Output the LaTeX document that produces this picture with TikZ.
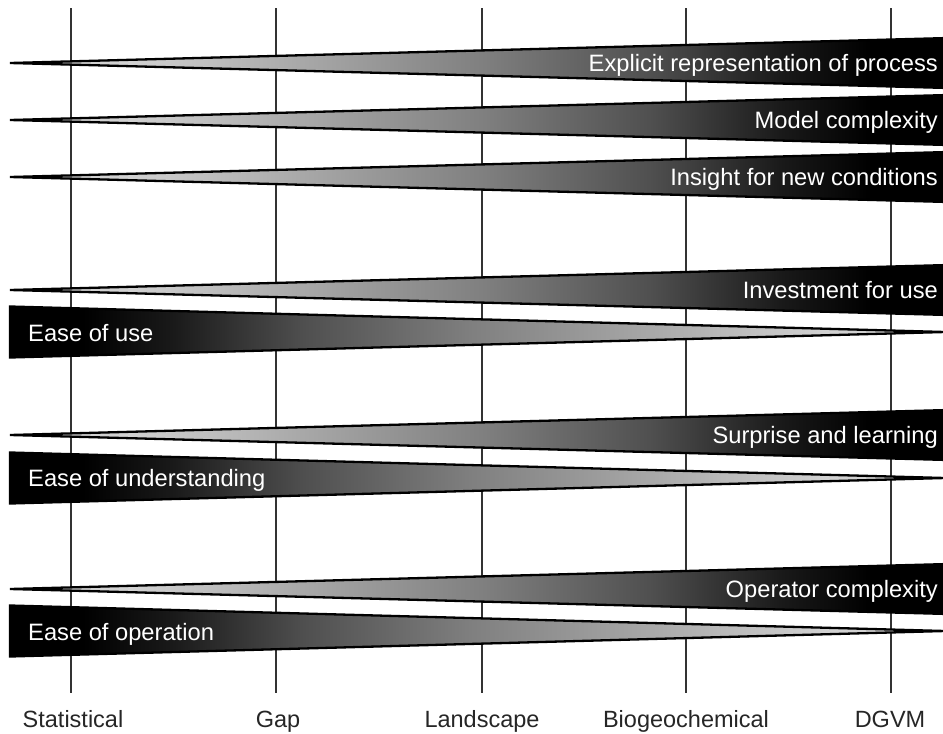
\documentclass[tikz,border=0pt]{standalone}
\usepackage{fontspec}
\setmainfont{Liberation Sans}
\pgfdeclarehorizontalshading{incr}{100bp}{color(0bp)=(black!18); color(31.4bp)=(black!18); color(40.5bp)=(black!34); color(50.2bp)=(black!50); color(59.2bp)=(black!69); color(66.1bp)=(black!90); color(70.9bp)=(black); color(100bp)=(black)}
\pgfdeclarehorizontalshading{decr}{100bp}{color(0bp)=(black); color(28.9bp)=(black); color(33.7bp)=(black!90); color(40.7bp)=(black!69); color(49.7bp)=(black!50); color(59.4bp)=(black!34); color(68.5bp)=(black!18); color(100bp)=(black!18)}
\tikzset{
  axisline/.style={draw=black!80, line width=1.6pt},
  upwedge/.style={draw=black, line width=2.3pt, line join=miter, shading=incr},
  downwedge/.style={draw=black, line width=2.3pt, line join=miter, shading=decr},
  wlabel/.style={text=white, font=\fontsize{23.7}{28}\selectfont, inner sep=0pt},
  rlabel/.style={wlabel, anchor=base east},
  llabel/.style={wlabel, anchor=base west},
  blabel/.style={text=black!85, font=\fontsize{23.5}{28}\selectfont, inner sep=0pt, anchor=base},
}
\begin{document}
\begin{tikzpicture}[x=1pt,y=-1pt]
\clip (0,0) rectangle (943,734);
\fill[white] (0,0) rectangle (943,734);
% vertical axis lines
\foreach \n/\x in {s/71,g/276,l/482,b/686,d/891}{
  \coordinate (top\n) at (\x,8);
  \coordinate (bot\n) at (\x,693);
  \draw[axisline] (top\n) -- (bot\n);
}
% increasing wedges (tip left, wide right)
\foreach \n/\y in {w1/63,w2/120,w3/177,w4/290,w6/435,w8/589}{
  \path[upwedge] (10,\y) -- (948,\y-25) -- (948,\y+25) -- cycle;
}
% decreasing wedges (wide left, tip right)
\foreach \n/\y in {w5/332,w7/478,w9/631}{
  \path[downwedge] (10,\y-25.5) -- (945,\y) -- (10,\y+25.5) -- cycle;
}
% labels
\node[rlabel] (t1) at (938,71) {Explicit representation of process};
\node[rlabel] (t2) at (938,128) {Model complexity};
\node[rlabel] (t3) at (938,185) {Insight for new conditions};
\node[rlabel] (t4) at (938,298) {Investment for use};
\node[llabel] (t5) at (28,341) {Ease of use};
\node[rlabel] (t6) at (938,443) {Surprise and learning};
\node[llabel] (t7) at (28,486) {Ease of understanding};
\node[rlabel] (t8) at (938,597) {Operator complexity};
\node[llabel] (t9) at (28,640) {Ease of operation};
% bottom labels
\node[blabel] (ls) at (73,727) {Statistical};
\node[blabel] (lg) at (278,727) {Gap};
\node[blabel] (ll) at (482,727) {Landscape};
\node[blabel] (lb) at (686,727) {Biogeochemical};
\node[blabel] (ld) at (890,727) {DGVM};
\end{tikzpicture}
\end{document}
